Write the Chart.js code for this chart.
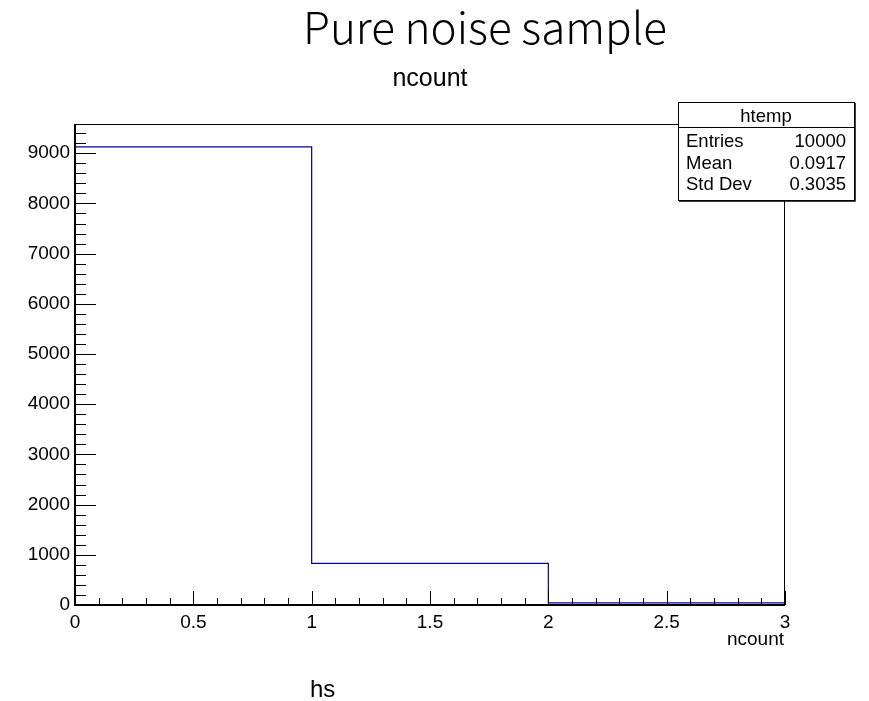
<!DOCTYPE html>
<html>
<head>
<meta charset="utf-8">
<script src="https://cdn.jsdelivr.net/npm/chart.js@4"></script>
<style>
  body { margin: 0; background: #fff; }
  canvas { display: block; }
</style>
</head>
<body>
<canvas id="chart" width="869" height="701"></canvas>
<script>
// histogram data
const binEdges = [0, 1, 2, 3];
const binCounts = [9127, 829, 44];

// axis ticks
const xTickValues = [0, 0.5, 1, 1.5, 2, 2.5, 3];
const yTickValues = [0, 1000, 2000, 3000, 4000, 5000, 6000, 7000, 8000, 9000];

// stats box
const statsTitle = "htemp";
const statsNames = ["Entries", "Mean", "Std Dev"];
const statsValues = ["10000", "0.0917", "0.3035"];

const FONT = "Liberation Sans, Arial, Helvetica, sans-serif";
const LINE_COLOR = "#000099";

// outline of the histogram: up the first edge, across each bin, down the last
const points = [{ x: binEdges[0], y: 0 }];
binCounts.forEach((c, i) => points.push({ x: binEdges[i], y: c }));
points.push({ x: binEdges[binEdges.length - 1], y: binCounts[binCounts.length - 1] });
points.push({ x: binEdges[binEdges.length - 1], y: 0 });

// root style inside ticks, frame, titles, stats box
const rootDecor = {
  id: "rootDecor",
  afterDraw(chart) {
    const ctx = chart.ctx;
    const a = chart.chartArea;
    const xs = chart.scales.x;
    const ys = chart.scales.y;
    ctx.save();
    ctx.strokeStyle = "#000";

    // frame
    ctx.lineWidth = 1;
    ctx.strokeRect(a.left + 0.5, a.top + 0.5, a.right - a.left - 1, a.bottom - a.top);

    // y ticks (pointing right)
    ctx.beginPath();
    for (let v = 0; v <= ys.max; v += 200) {
      const y = Math.round(ys.getPixelForValue(v)) + 0.5;
      const len = v % 1000 === 0 ? 21 : 11;
      ctx.moveTo(a.left, y);
      ctx.lineTo(a.left + len, y);
    }
    // x ticks (pointing up)
    for (let i = 0; i <= 30; i++) {
      const v = i / 10;
      const x = Math.round(xs.getPixelForValue(v)) + 0.5;
      const len = i % 5 === 0 ? 14 : 7;
      ctx.moveTo(x, a.bottom);
      ctx.lineTo(x, a.bottom - len);
    }
    ctx.stroke();

    // axis lines
    ctx.lineWidth = 2;
    ctx.beginPath();
    ctx.moveTo(a.left, a.top);
    ctx.lineTo(a.left, a.bottom);
    ctx.lineTo(a.right, a.bottom);
    ctx.stroke();

    // texts
    ctx.fillStyle = "#000";
    ctx.textBaseline = "alphabetic";
    ctx.font = '300 44px "Noto Sans CJK SC", "Noto Sans", sans-serif';
    ctx.textAlign = "center";
    ctx.fillText("Pure noise sample", 485, 44);

    ctx.font = "25px " + FONT;
    ctx.fillText("ncount", 430, 86);

    ctx.font = "24px " + FONT;
    ctx.textAlign = "left";
    ctx.fillText("hs", 310, 697);

    ctx.font = "19px " + FONT;
    ctx.textAlign = "right";
    ctx.fillText("ncount", 784, 645);

    // stats box
    const bx = 678, by = 102, bw = 176, bh = 98;
    ctx.fillStyle = "#fff";
    ctx.fillRect(bx, by, bw, bh);
    ctx.lineWidth = 1;
    ctx.strokeRect(bx + 0.5, by + 0.5, bw, bh);
    ctx.lineWidth = 1.5;
    ctx.beginPath();
    ctx.moveTo(bx + bw + 1, by + 1);
    ctx.lineTo(bx + bw + 1, by + bh + 1);
    ctx.lineTo(bx + 1, by + bh + 1);
    ctx.stroke();
    ctx.lineWidth = 1;
    ctx.beginPath();
    ctx.moveTo(bx, 127.5);
    ctx.lineTo(bx + bw, 127.5);
    ctx.stroke();

    ctx.fillStyle = "#000";
    ctx.font = "18.5px " + FONT;
    ctx.textAlign = "center";
    ctx.fillText(statsTitle, bx + bw / 2, 122);
    const rows = [147, 169, 190];
    statsNames.forEach((n, i) => {
      ctx.textAlign = "left";
      ctx.fillText(n, 686, rows[i]);
      ctx.textAlign = "right";
      ctx.fillText(statsValues[i], 846, rows[i]);
    });
    ctx.restore();
  },
};

new Chart(document.getElementById("chart"), {
  type: "line",
  data: {
    datasets: [
      {
        data: points,
        stepped: "before",
        borderColor: LINE_COLOR,
        borderWidth: 1.2,
        pointRadius: 0,
        fill: false,
      },
    ],
  },
  options: {
    responsive: false,
    animation: false,
    layout: { padding: { top: 124, right: 84, bottom: 0, left: 0 } },
    plugins: { legend: { display: false }, tooltip: { enabled: false } },
    scales: {
      x: {
        type: "linear",
        min: 0,
        max: 3,
        afterFit: (s) => { s.height = 96; },
        afterBuildTicks: (s) => { s.ticks = xTickValues.map((v) => ({ value: v })); },
        grid: { display: false, drawTicks: false },
        border: { display: false },
        ticks: {
          padding: 6,
          color: "#000",
          maxRotation: 0,
          font: { family: FONT, size: 19 },
          callback: (v) => String(v),
        },
      },
      y: {
        min: 0,
        max: 9583,
        afterFit: (s) => { s.width = 75; },
        afterBuildTicks: (s) => { s.ticks = yTickValues.map((v) => ({ value: v })); },
        grid: { display: false, drawTicks: false },
        border: { display: false },
        ticks: {
          padding: 5,
          color: "#000",
          font: { family: FONT, size: 19 },
          callback: (v) => String(v),
        },
      },
    },
  },
  plugins: [rootDecor],
});
</script>
</body>
</html>
